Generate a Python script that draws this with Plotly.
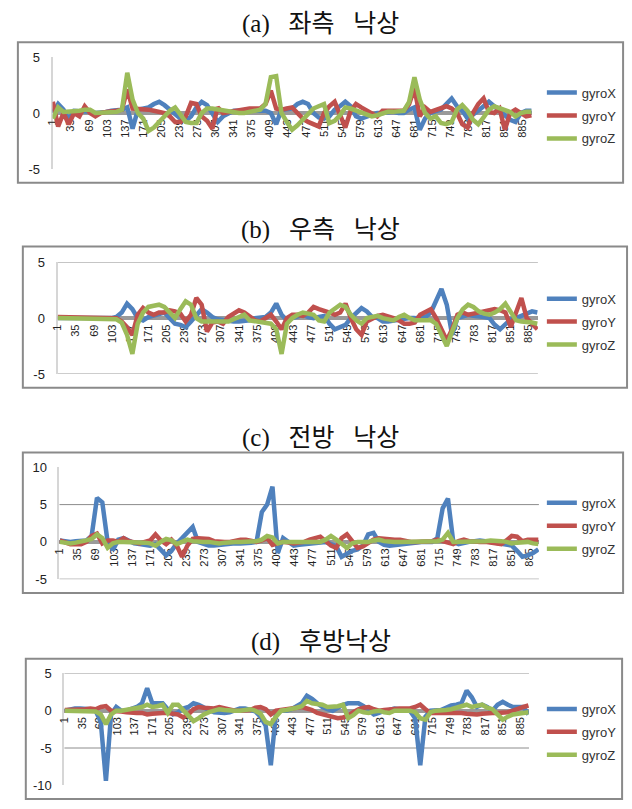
import plotly.graph_objects as go

W, H = 632, 809

# category positions of the values (every 10th sample)
sample_idx = list(range(1, 902, 10))
x_tick_vals = [1, 35, 69, 103, 137, 171, 205, 239, 273, 307, 341, 375, 409, 443,
               477, 511, 545, 579, 613, 647, 681, 715, 749, 783, 817, 851, 885]
x_tick_text = [str(v) for v in x_tick_vals]
series_names = ["gyroX", "gyroY", "gyroZ"]
sp = "\u00a0\u00a0\u00a0"
titles = ["(a)" + sp + "좌측" + sp + "낙상", "(b)" + sp + "우측" + sp + "낙상",
          "(c)" + sp + "전방" + sp + "낙상", "(d)" + sp + "후방낙상"]

a_gyroX = [0.0, 0.8, 0.3, -0.6, 0.2, 0.2, 0.1, 0.1, 0.0, 0.0,
           0.1, 0.2, 0.2, 0.3, 0.5, -1.4, 0.3, 0.4, 0.5, 0.8,
           1.0, 0.7, 0.3, 0.0, -0.5, -0.7, -0.3, 0.5, 1.0, 0.7,
           0.0, -0.8, -0.3, 0.0, 0.2, 0.2, 0.3, 0.3, 0.2, 0.2,
           0.2, 0.0, -1.0, 0.3, 0.3, 0.4, 0.8, 1.0, 0.8, 0.0,
           -0.4, -0.5, -0.3, 0.3, 0.6, 1.0, 0.6, -0.3, -0.5, -0.3,
           -0.2, 0.0, 0.0, 0.1, 0.1, 0.0, 0.0, 0.3, 0.5, -1.5,
           -0.5, 0.0, 0.2, 0.3, 0.8, 1.3, 0.6, 0.2, -0.5, -0.2,
           0.2, 0.6, 1.0, 0.6, 0.2, -0.3, -0.6, -0.8, 0.0, 0.2,
           0.2]
a_gyroY = [1.0, -1.2, 0.0, -1.0, 0.0, -0.3, 0.6, 0.0, -0.3, 0.0,
           0.1, 0.1, 0.2, 0.3, 2.1, 0.4, 0.4, 0.3, 0.3, 0.2,
           0.1, 0.0, -0.3, -0.8, -0.8, -0.3, 0.9, 0.8, -0.3, -0.7,
           -1.4, 0.5, 0.0, 0.1, 0.2, 0.3, 0.3, 0.4, 0.4, 0.4,
           0.8, 2.0, 0.4, 0.3, 0.4, 0.5, 0.0, -0.5, -0.8, -1.0,
           -1.2, 0.0, 0.6, 1.0, -0.2, -1.3, 0.2, 0.8, 0.5, 0.2,
           -0.1, -0.3, 0.2, 0.2, 0.1, 0.2, 0.2, 0.8, 2.2, -0.3,
           0.5, 0.1, 0.3, 0.5, 0.6, 0.4, 0.0, -1.0, -1.3, 0.0,
           0.8, 1.3, 0.1, 0.0, 0.4, -1.5, 0.0, 0.3, 0.0, -0.3,
           -0.2]
a_gyroZ = [-0.5, 0.5, 0.1, 0.1, 0.2, 0.2, 0.3, 0.3, 0.0, 0.0,
           0.0, 0.1, 0.1, 0.3, 3.6, 1.2, 0.0, -0.5, -1.6, -1.3,
           -0.8, -0.2, 0.2, 0.5, -0.2, -0.8, -0.9, -0.9, 0.0, 0.4,
           0.4, 0.3, 0.2, 0.1, 0.0, 0.0, 0.0, 0.1, 0.2, 0.3,
           0.8, 3.2, 3.3, 0.0, -0.8, -1.5, -1.1, -0.6, 0.0, 0.4,
           0.6, 0.8, -0.9, -0.7, -0.2, 0.5, 0.4, 0.2, 0.1, -0.1,
           -0.3, -0.2, 0.0, 0.1, 0.1, 0.1, 0.2, 1.0, 3.2, 1.2,
           0.0, -0.5, -0.3, -0.9, -1.0, -0.8, 0.3, 0.7, 0.2, -0.6,
           -1.0, -0.4, 0.3, 0.6, 0.4, 0.2, 0.1, -0.3, 0.0, 0.1,
           0.1]

b_gyroX = [0.0, 0.0, 0.0, 0.0, -0.1, -0.1, -0.1, -0.1, 0.0, 0.0,
           0.0, 0.1, 0.5, 1.3, 0.8, 0.0, -0.2, 0.1, 0.2, 0.4,
           0.5, 0.0, -0.5, -0.6, -0.8, -0.3, 0.3, 0.8, 0.5, 0.1,
           -0.1, -0.2, -0.2, -0.3, -0.3, -0.3, -0.2, 0.0, 0.0, 0.1,
           0.5, 1.3, 0.3, -0.2, 0.0, 0.2, 0.3, 0.1, 0.0, 0.1,
           0.2, -0.5, -1.0, -0.8, -0.6, 0.0, 0.5, 0.9, 0.6, 0.1,
           0.0, -0.3, -0.3, -0.2, -0.2, -0.1, 0.0, 0.0, 0.0, 0.1,
           0.5, 1.5, 2.6, 1.2, -1.5, 0.0, 0.2, 0.3, 0.2, 0.2,
           0.1, 0.0, -0.6, -1.0, -0.5, -0.1, 0.0, 0.2, 0.3, 0.6,
           0.5]
b_gyroY = [0.1, 0.1, 0.1, 0.1, 0.1, 0.1, 0.1, 0.1, 0.1, 0.0,
           0.0, 0.0, -0.3, -0.8, -1.5, 0.3, 0.9, 0.5, 0.3, 0.5,
           0.5, 0.7, 0.6, 0.4, -0.3, 0.3, 1.8, 1.2, -1.2, -0.4,
           -0.3, -0.5, 0.1, 0.4, 0.7, 0.5, 0.1, -0.2, -0.3, 0.0,
           0.3, -0.3, -1.0, 0.0, 0.3, 0.3, 0.2, 0.5, 1.0, 0.8,
           0.7, 0.5, 0.3, 0.5, 1.3, 0.0, -1.0, -1.5, -0.3, 0.0,
           0.2, 0.3, 0.2, 0.0, -0.2, -0.5, -0.5, -0.4, 0.3, 0.6,
           0.8, 0.0, -1.0, -2.0, -1.0, 0.3, 0.5, 0.3, 0.4, 0.5,
           0.7, 0.8, 0.8, 0.7, 0.5, -0.8, 0.5, 1.8, 0.0, -0.5,
           -1.0]
b_gyroZ = [0.0, 0.0, 0.0, 0.0, -0.1, -0.1, -0.1, -0.1, -0.1, -0.1,
           0.0, -0.1, -0.4, -1.5, -3.2, -0.5, 0.5, 1.0, 1.1, 1.2,
           1.0, 0.5, 0.0, 0.8, 1.5, 1.2, 0.0, -0.3, -0.3, -0.2,
           -0.2, -0.3, -0.3, -0.1, 0.1, 0.3, -0.2, -0.3, -0.3, -0.4,
           -0.5, -1.0, -3.2, -0.5, 0.0, 0.3, 0.5, 0.4, 0.3, -0.2,
           -0.3, 0.5, 0.8, 1.2, 1.0, 0.3, -0.2, -0.5, 0.0, 0.1,
           0.2, 0.0, -0.1, -0.2, 0.1, 0.3, 0.0, -0.2, -0.2, -0.2,
           -0.2, -0.5, -1.5, -2.5, -1.2, 0.0, 0.8, 1.2, 1.0, 0.6,
           0.4, 0.3, 0.5, 0.8, 1.3, 0.5, -0.2, -0.3, -0.3, -0.4,
           -0.5]

c_gyroX = [0.2, 0.1, 0.0, 0.1, 0.2, 0.2, 0.8, 5.9, 5.3, 0.0,
           -1.1, 0.3, 0.5, 0.1, -0.2, -0.3, -0.4, -0.5, -0.3, -1.0,
           -1.8, -1.2, -0.2, 0.5, 1.2, 2.0, 0.0, -0.3, -0.5, -0.5,
           -0.4, -0.3, -0.3, -0.2, -0.2, -0.2, -0.1, 0.0, 4.0, 5.0,
           7.4, -1.5, 0.5, 0.0, -0.5, -0.4, -0.3, -0.2, -0.2, -0.1,
           0.0, -0.3, -0.6, -2.0, -1.6, -1.2, -1.0, -0.5, 1.0, 1.2,
           0.0, -0.4, -0.5, -0.4, -0.3, -0.2, -0.2, -0.1, 0.0, 0.0,
           0.0, 0.5, 4.5, 5.8, 0.0, -0.3, -0.1, 0.0, 0.1, 0.2,
           0.1, 0.0, -0.1, -0.2, -0.3, -0.5, -1.2, -2.0, -1.8, -1.5,
           -1.0]
c_gyroY = [0.2, 0.0, -0.3, -0.3, -0.3, 0.0, 0.8, 1.1, -0.2, 0.2,
           0.2, 0.0, 0.5, 0.1, -0.1, -0.2, 0.0, 0.2, 1.0, 0.2,
           -0.3, 0.3, -0.5, -2.0, -0.5, 0.4, 0.5, 0.5, 0.4, 0.1,
           0.0, 0.0, 0.0, 0.2, 0.3, 0.3, 0.2, 0.0, 0.2, 0.5,
           -0.4, -0.2, 0.0, -0.1, -0.2, -0.1, 0.0, 0.3, 0.5, 0.7,
           0.1, -0.5, -0.8, 0.5, 1.0, 0.0, -0.8, -0.6, -0.2, 0.3,
           0.5, 0.4, 0.3, 0.3, 0.3, 0.1, 0.0, 0.0, 0.0, 0.0,
           0.1, 0.3, 0.1, 0.0, -0.3, 0.1, 0.3, 0.1, 0.0, 0.0,
           0.0, -0.1, -0.2, -0.3, 0.2, 0.8, 0.7, 0.1, 0.3, 0.3,
           0.3]
c_gyroZ = [0.0, -0.1, -0.2, -0.1, 0.0, 0.2, 0.4, 1.0, 0.5, -0.8,
           -0.2, 0.0, 0.0, 0.0, 0.0, 0.0, -0.1, -0.2, -0.5, 0.0,
           0.4, 0.2, -0.3, 0.0, 0.3, 0.1, 0.0, 0.0, 0.0, -0.1,
           -0.2, -0.1, 0.0, 0.0, 0.0, 0.0, 0.0, 0.1, 0.3, 0.8,
           0.6, -0.2, 0.0, 0.0, 0.0, 0.0, 0.0, 0.0, 0.0, 0.0,
           0.3, 0.8, 0.3, -0.3, -0.8, -0.2, 0.0, 0.0, 0.0, 0.2,
           0.3, 0.1, 0.0, 0.0, 0.0, 0.0, 0.0, 0.0, 0.0, 0.0,
           0.0, 0.1, 0.3, 1.2, 0.0, 0.0, 0.0, 0.0, 0.0, 0.0,
           0.1, 0.2, 0.2, 0.1, 0.0, -0.2, -0.1, 0.0, 0.0, -0.2,
           -0.3]

d_gyroX = [0.0, 0.2, 0.3, 0.3, 0.3, 0.2, 0.0, -1.5, -9.4, -0.5,
           0.5, 0.0, 0.0, 0.2, 0.5, 1.0, 3.0, 1.0, 1.0, 1.0,
           0.2, -0.5, -0.2, 0.3, 0.5, 1.0, 0.8, 0.4, 0.1, -0.2,
           -0.3, -0.3, -0.2, 0.1, 0.3, 0.3, 0.1, -0.1, -0.8, -2.0,
           -7.3, -0.3, 0.0, 0.0, 0.2, 0.6, 1.0, 2.0, 1.6, 1.0,
           0.5, 0.2, 0.0, 0.4, 0.8, 1.0, 1.0, 1.0, 0.6, 0.0,
           -0.5, -0.3, 0.0, 0.1, 0.3, 0.2, 0.2, 0.0, -1.0, -7.3,
           -0.8, 0.0, 0.0, 0.1, 0.4, 0.7, 0.8, 1.0, 2.7, 1.8,
           0.5, 0.8, 0.5, 0.0, 0.8, 1.2, 0.8, 0.5, 0.5, 0.5,
           -0.5]
d_gyroY = [0.1, 0.1, 0.1, 0.2, 0.2, 0.3, 0.2, 0.5, 0.6, 0.0,
           0.0, -0.1, -0.2, -0.3, -0.3, -0.3, -0.5, -0.4, -0.3, -0.3,
           -0.3, -0.4, -0.5, -0.9, -0.5, 0.2, 0.5, 0.4, 0.3, 0.3,
           0.5, 0.3, 0.1, 0.0, 0.0, 0.0, 0.1, 0.4, 0.5, 0.2,
           -0.5, 0.0, 0.1, 0.2, 0.3, 0.4, 0.5, 0.3, 0.1, -0.3,
           -0.5, -0.7, -0.8, -1.0, -0.9, -0.7, -0.2, 0.2, 0.4, 0.5,
           0.2, 0.0, 0.1, 0.2, 0.2, 0.3, 0.3, 0.3, 0.5, 0.8,
           0.2, -0.3, -0.3, -0.3, -0.3, -0.2, -0.3, -0.3, -0.4, -0.5,
           -0.5, -0.4, -0.3, -0.3, -0.3, -0.3, -0.2, 0.0, 0.3, 0.5,
           0.7]
d_gyroZ = [0.0, 0.0, 0.0, 0.0, 0.0, 0.0, -0.1, -0.5, -1.8, -0.5,
           0.0, 0.0, 0.1, 0.2, 0.3, 0.5, 0.8, 0.5, 0.6, 0.8,
           -0.3, 0.8, 0.8, 0.1, -0.5, -1.4, -1.0, -0.5, -0.2, 0.0,
           0.2, 0.1, 0.0, 0.0, 0.0, 0.1, 0.2, 0.0, -0.4, -1.5,
           -1.8, -0.8, 0.0, 0.1, 0.2, 0.4, 0.6, 1.3, 1.0, 0.9,
           0.8, 0.5, 0.5, 0.6, 0.8, -1.0, -0.6, 0.0, -0.2, -0.3,
           -0.1, 0.0, -0.2, -0.3, 0.0, 0.0, 0.0, 0.0, -0.2, -1.0,
           -1.2, -0.2, 0.0, 0.0, 0.1, 0.2, 0.4, 0.5, 0.8, 0.5,
           0.6, 0.8, 0.4, 0.2, -0.5, -1.2, -0.8, -0.5, -0.4, -0.3,
           -0.2]

y_ticks = [[-5, 0, 5], [-5, 0, 5], [-5, 0, 5, 10], [-10, -5, 0, 5]]
y_ranges = [[-5, 5], [-5, 5], [-5, 10], [-10, 5]]
grid_vals = [[], [-5, 5], [-5, 5], [-5, 5]]
panel_data = [(a_gyroX, a_gyroY, a_gyroZ), (b_gyroX, b_gyroY, b_gyroZ),
              (c_gyroX, c_gyroY, c_gyroZ), (d_gyroX, d_gyroY, d_gyroZ)]
colors = ["#4F81BD", "#C0504D", "#9BBB59"]

# layout in pixels
plot_x = [(47, 531), (52, 537), (54, 538), (59, 528)]
plot_y = [(51, 165), (260, 374), (469, 583), (679, 793)]
frames = [(12, 36, 623, 179), (17, 244, 627, 388), (17, 454, 623, 597), (20, 664, 622, 807)]
title_y = [17, 227, 439, 647]
legend_top = [72, 282, 490, 700]
legend_left = 541


def fx(px):
    return px / W


def fy(py):
    return 1 - py / H


fig = go.Figure()
layout = dict(width=W, height=H, margin=dict(l=0, r=0, t=0, b=0),
              paper_bgcolor="white", plot_bgcolor="rgba(0,0,0,0)",
              font=dict(family="Liberation Sans, Arial, sans-serif", color="#222"),
              shapes=[], annotations=[])

for k in range(4):
    s = "" if k == 0 else str(k + 1)
    ymin, ymax = y_ranges[k]
    ytop, ybot = plot_y[k]
    zero_px = ytop + (ymax - 0) / (ymax - ymin) * (ybot - ytop)
    for name, vals, col in zip(series_names, panel_data[k], colors):
        fig.add_trace(go.Scatter(
            x=sample_idx, y=vals, mode="lines", name=name,
            line=dict(color=col, width=4.5),
            xaxis="x" + s, yaxis="y" + s,
            legend="legend" + s, legendgroup=f"{k}{name}",
            hoverinfo="skip"))
    layout["xaxis" + s] = dict(
        domain=[fx(plot_x[k][0]), fx(plot_x[k][1])], range=[0.5, 902],
        anchor="free", position=fy(zero_px), layer="below traces",
        tickmode="array", tickvals=x_tick_vals, ticktext=x_tick_text,
        tickangle=-90, tickfont=dict(size=11, color="#222"),
        showgrid=False, zeroline=False, showline=True,
        linecolor="#9a9a9a", linewidth=4, ticks="")
    layout["yaxis" + s] = dict(
        domain=[fy(ybot), fy(ytop)], range=y_ranges[k], anchor="x" + s,
        layer="below traces",
        tickmode="array", tickvals=y_ticks[k], ticktext=[str(v) for v in y_ticks[k]],
        tickfont=dict(size=13, color="#222"), ticklabelstandoff=8,
        showgrid=False, zeroline=False, showline=True,
        linecolor="#d6d6d6", linewidth=2, ticks="")
    layout["legend" + s] = dict(
        x=fx(legend_left), y=fy(legend_top[k]), xanchor="left", yanchor="top",
        bgcolor="rgba(0,0,0,0)", font=dict(size=13, color="#333"),
        tracegroupgap=3, itemwidth=30)
    for gv in grid_vals[k]:
        layout["shapes"].append(dict(
            type="line", xref="x" + s + " domain", x0=0, x1=1,
            yref="y" + s, y0=gv, y1=gv, layer="below",
            line=dict(color="#8c8c8c", width=1)))
    x0, y0, x1, y1 = frames[k]
    layout["shapes"].append(dict(
        type="rect", xref="paper", yref="paper",
        x0=fx(x0), x1=fx(x1), y0=fy(y1), y1=fy(y0),
        line=dict(color="#8a8a8a", width=2)))
    layout["annotations"].append(dict(
        text=titles[k], xref="paper", yref="paper", x=fx(318), y=fy(title_y[k]),
        xanchor="center", yanchor="middle", showarrow=False,
        font=dict(family="Liberation Serif, Noto Sans CJK KR, serif", size=25, color="#111")))

fig.update_layout(**layout)
fig.write_html("out.html", config={"displayModeBar": False},
               post_script="document.body.style.margin='0';document.body.style.overflow='hidden';")
